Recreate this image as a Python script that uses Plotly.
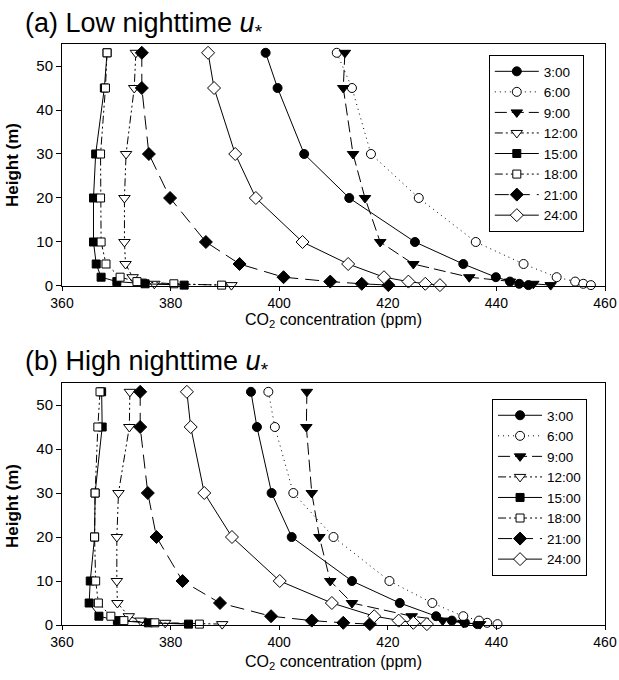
import plotly.graph_objects as go

heights = [53, 45, 30, 20, 10, 5, 2, 1, 0.5, 0.2]
times = ["3:00", "6:00", "9:00", "12:00", "15:00", "18:00", "21:00", "24:00"]

# Panel (a): low nighttime u*
a_0300 = [397.5, 399.7, 404.6, 412.9, 425.0, 433.9, 439.9, 442.5, 444.2, 445.9]
a_0600 = [410.6, 413.4, 416.9, 425.7, 436.2, 445.0, 451.1, 454.5, 456.0, 457.4]
a_0900 = [412.1, 411.8, 413.6, 415.8, 418.6, 424.7, 435.0, 442.5, 446.8, 450.0]
a_1200 = [373.6, 373.3, 371.8, 371.5, 371.5, 371.7, 373.0, 374.5, 377.0, 391.2]
a_1500 = [368.3, 367.8, 366.2, 365.8, 365.8, 366.3, 367.2, 370.1, 375.3, 382.5]
a_1800 = [368.3, 368.0, 367.1, 367.1, 367.2, 368.1, 370.7, 373.8, 380.6, 389.4]
a_2100 = [374.7, 374.7, 376.0, 379.9, 386.5, 392.7, 400.8, 409.4, 415.2, 420.1]
a_2400 = [386.9, 388.0, 391.9, 395.7, 404.3, 412.7, 419.3, 423.8, 426.9, 429.6]

# Panel (b): high nighttime u*
b_0300 = [394.8, 395.9, 398.6, 402.3, 413.4, 422.2, 428.9, 431.8, 434.2, 436.5]
b_0600 = [398.0, 399.2, 402.6, 410.0, 420.3, 428.2, 433.9, 436.8, 438.3, 440.2]
b_0900 = [405.1, 405.0, 406.0, 407.4, 409.4, 413.4, 424.4, 430.1, 433.9, 437.0]
b_1200 = [372.5, 372.4, 370.4, 370.1, 370.1, 370.2, 372.3, 374.5, 379.0, 389.5]
b_1500 = [367.3, 367.4, 366.1, 366.0, 365.2, 365.0, 366.8, 370.2, 375.9, 383.3]
b_1800 = [367.0, 366.6, 366.1, 366.0, 366.2, 366.7, 369.0, 371.4, 377.1, 385.3]
b_2100 = [374.4, 374.4, 375.8, 377.4, 382.2, 389.1, 398.5, 406.0, 411.8, 416.7]
b_2400 = [383.0, 383.7, 386.2, 391.3, 400.1, 409.7, 417.5, 422.0, 424.7, 427.2]

a_series = [a_0300, a_0600, a_0900, a_1200, a_1500, a_1800, a_2100, a_2400]
b_series = [b_0300, b_0600, b_0900, b_1200, b_1500, b_1800, b_2100, b_2400]

styles = [
    dict(symbol="circle", fill="black", dash="solid", size=9),
    dict(symbol="circle", fill="white", dash="1px,4px", size=9),
    dict(symbol="triangle-down", fill="black", dash="12px,5px", size=10),
    dict(symbol="triangle-down", fill="white", dash="8px,3px,2px,3px,2px,3px", size=10),
    dict(symbol="square", fill="black", dash="solid", size=8),
    dict(symbol="square", fill="white", dash="8px,3px,2px,3px,2px,3px", size=8),
    dict(symbol="diamond", fill="black", dash="14px,7px", size=10),
    dict(symbol="diamond", fill="white", dash="solid", size=10),
]

FONT = "Liberation Sans, Arial, sans-serif"
fig = go.Figure()

for panel, series, xa, ya, leg in [("a", a_series, "x", "y", "legend"),
                                   ("b", b_series, "x2", "y2", "legend2")]:
    for name, vals, st in zip(times, series, styles):
        fig.add_trace(go.Scatter(
            x=vals, y=heights, name=name, xaxis=xa, yaxis=ya, legend=leg,
            mode="lines+markers", cliponaxis=False,
            line=dict(color="black", width=1, dash=st["dash"]),
            marker=dict(symbol=st["symbol"], size=st["size"], color=st["fill"],
                        line=dict(color="black", width=1)),
        ))

axis_common = dict(
    range=[360, 460], dtick=20, tick0=360, showline=True, mirror=True,
    linecolor="black", linewidth=1, ticks="outside", ticklen=4, tickcolor="black",
    showgrid=False, zeroline=False, automargin=False,
    tickfont=dict(family=FONT, size=14, color="black"),
)
yaxis_common = dict(
    range=[0, 55], dtick=10, tick0=0, showline=True, mirror=True,
    linecolor="black", linewidth=1, ticks="outside", ticklen=5, tickcolor="black",
    showgrid=False, zeroline=False, automargin=False,
    tickfont=dict(family=FONT, size=15, color="black"),
)

legend_common = dict(
    bgcolor="white", bordercolor="black", borderwidth=1,
    font=dict(family=FONT, size=13.5, color="black"),
    xanchor="left", yanchor="top", itemwidth=44, tracegroupgap=0,
)

fig.update_layout(
    template="none",
    width=619, height=680, autosize=False,
    margin=dict(l=62, r=14, t=44, b=55, pad=0),
    paper_bgcolor="white", plot_bgcolor="white",
    showlegend=True,
    xaxis=dict(domain=[0, 1], anchor="y", **axis_common),
    yaxis=dict(domain=[0.5835, 1.0], anchor="x", **yaxis_common),
    xaxis2=dict(domain=[0, 1], anchor="y2", **axis_common),
    yaxis2=dict(domain=[0.0, 0.4165], anchor="x2", **yaxis_common),
    legend=dict(x=0.786, y=0.981, **legend_common),
    legend2=dict(x=0.792, y=0.389, **legend_common),
)

ann = []
for txt, yy in [("(a) Low nighttime <i>u</i><sub>*</sub>", 1.033),
                ("(b) High nighttime <i>u</i><sub>*</sub>", 0.451)]:
    ann.append(dict(text=txt, x=-0.072, y=yy, xref="paper", yref="paper",
                    xanchor="left", yanchor="middle", showarrow=False,
                    font=dict(family=FONT, size=27, color="black")))
for yy in [0.7917, 0.2048]:
    ann.append(dict(text="<b>Height (m)</b>", x=-0.092, y=yy, xref="paper", yref="paper",
                    xanchor="center", yanchor="middle", textangle=-90, showarrow=False,
                    font=dict(family=FONT, size=17, color="black")))
for yy in [0.524, -0.0654]:
    ann.append(dict(text="CO<sub>2</sub> concentration (ppm)", x=0.5, y=yy,
                    xref="paper", yref="paper", xanchor="center", yanchor="middle",
                    showarrow=False, font=dict(family=FONT, size=16, color="black")))
fig.update_layout(annotations=ann)

fig.write_html("out.html")
